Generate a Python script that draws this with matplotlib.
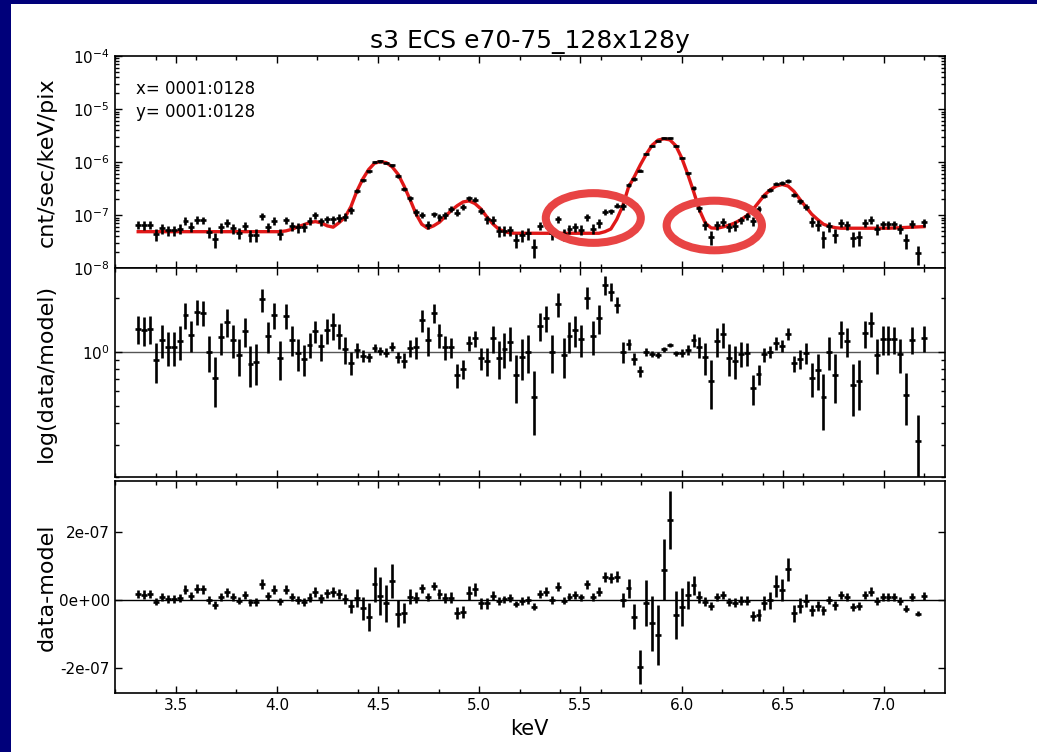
import numpy as np
import matplotlib
matplotlib.use("Agg")
import matplotlib.pyplot as plt
from matplotlib.patches import Ellipse, Rectangle
from matplotlib.ticker import MultipleLocator, FormatStrFormatter, LogLocator, NullFormatter

# ---- spectrum: bin centres (two 14.6 eV PI channels per bin) ----
energy = 3.3142 + 0.0292 * np.arange(134)
bin_half_width = 0.0146

# best-fit model, log10(cnt/sec/keV/pix) per bin
model_log = [
    -7.31, -7.31, -7.31, -7.31, -7.31, -7.31, -7.31, -7.31, -7.31, -7.31,
    -7.31, -7.31, -7.31, -7.31, -7.31, -7.31, -7.31, -7.31, -7.31, -7.31,
    -7.31, -7.31, -7.31, -7.31, -7.31, -7.295, -7.265, -7.22, -7.18, -7.14,
    -7.12, -7.145, -7.20, -7.225, -7.14, -7.04, -6.84, -6.55, -6.32, -6.14,
    -6.02, -5.99, -6.01, -6.09, -6.23, -6.45, -6.70, -6.97, -7.17, -7.245,
    -7.20, -7.13, -7.02, -6.91, -6.82, -6.75, -6.73, -6.78, -6.88, -7.03,
    -7.16, -7.26, -7.31, -7.335, -7.34, -7.34, -7.34, -7.34, -7.34, -7.34,
    -7.34, -7.34, -7.34, -7.34, -7.34, -7.34, -7.34, -7.34, -7.34, -7.31,
    -7.26, -7.08, -6.83, -6.47, -6.27, -6.05, -5.85, -5.68, -5.585, -5.56,
    -5.58, -5.69, -5.92, -6.22, -6.55, -6.90, -7.15, -7.24, -7.245, -7.22,
    -7.19, -7.145, -7.085, -7.01, -6.90, -6.76, -6.62, -6.52, -6.45, -6.42,
    -6.45, -6.55, -6.70, -6.84, -6.98, -7.08, -7.17, -7.21, -7.235, -7.245,
    -7.245, -7.245, -7.245, -7.245, -7.245, -7.245, -7.245, -7.245, -7.24, -7.235,
    -7.23, -7.225, -7.22, -7.215,
]

# data - model, in units of 1e-7
resid_e7 = [
    0.17, 0.16, 0.17, -0.05, 0.08, 0.03, 0.03, 0.07, 0.30, 0.12,
    0.33, 0.32, 0.00, -0.14, 0.10, 0.23, 0.08, -0.02, 0.15, -0.07,
    -0.06, 0.47, 0.11, 0.30, -0.04, 0.30, 0.09, -0.01, -0.06, 0.07,
    0.23, 0.05, 0.20, 0.24, 0.17, 0.03, -0.19, 0.05, -0.24, -0.50,
    0.46, 0.11, -0.10, 0.56, -0.40, -0.38, 0.10, 0.07, 0.34, 0.09,
    0.41, 0.18, 0.06, 0.07, -0.39, -0.35, 0.21, 0.31, -0.10, -0.10,
    0.13, -0.04, 0.02, 0.06, -0.12, -0.03, 0.00, -0.20, 0.18, 0.25,
    0.00, 0.39, -0.02, 0.10, 0.15, 0.08, 0.46, 0.10, 0.25, 0.67,
    0.64, 0.69, 0.00, 0.34, -0.49, -1.97, -0.08, -0.69, -1.04, 0.89,
    2.36, -0.44, -0.20, 0.15, 0.44, 0.08, -0.05, -0.18, 0.08, 0.15,
    -0.05, -0.08, -0.02, -0.02, -0.47, -0.44, -0.08, 0.00, 0.41, 0.30,
    0.91, -0.39, -0.17, -0.02, -0.30, -0.17, -0.30, 0.00, -0.15, 0.15,
    0.08, -0.20, -0.18, 0.15, 0.25, -0.02, 0.10, 0.10, 0.10, -0.02,
    -0.25, 0.10, -0.41, 0.12,
]

# 1-sigma errors, in units of 1e-7
err_e7 = [
    0.12, 0.12, 0.12, 0.11, 0.12, 0.11, 0.11, 0.12, 0.13, 0.12,
    0.13, 0.13, 0.11, 0.11, 0.12, 0.13, 0.12, 0.11, 0.12, 0.11,
    0.11, 0.14, 0.12, 0.13, 0.11, 0.13, 0.12, 0.12, 0.12, 0.13,
    0.14, 0.13, 0.13, 0.14, 0.14, 0.16, 0.19, 0.27, 0.34, 0.41,
    0.52, 0.56, 0.54, 0.50, 0.40, 0.30, 0.22, 0.16, 0.14, 0.12,
    0.13, 0.14, 0.16, 0.17, 0.17, 0.18, 0.20, 0.20, 0.17, 0.15,
    0.14, 0.12, 0.11, 0.11, 0.10, 0.11, 0.11, 0.10, 0.11, 0.12,
    0.11, 0.13, 0.11, 0.11, 0.12, 0.11, 0.13, 0.12, 0.13, 0.14,
    0.14, 0.16, 0.20, 0.27, 0.37, 0.49, 0.68, 0.80, 0.88, 0.90,
    0.86, 0.70, 0.55, 0.40, 0.28, 0.18, 0.13, 0.12, 0.12, 0.12,
    0.12, 0.13, 0.13, 0.14, 0.15, 0.17, 0.21, 0.25, 0.32, 0.33,
    0.34, 0.25, 0.22, 0.19, 0.16, 0.15, 0.13, 0.13, 0.13, 0.12,
    0.12, 0.12, 0.12, 0.12, 0.13, 0.12, 0.12, 0.12, 0.12, 0.12,
    0.11, 0.12, 0.075, 0.12,
]

title_text = "s3 ECS e70-75_128x128y"
region_text = "x= 0001:0128\ny= 0001:0128"

model = 10.0 ** np.array(model_log)
resid = np.array(resid_e7) * 1e-7
err = np.array(err_e7) * 1e-7
data = model + resid
ratio = data / model
ratio_err = err / model

# ---- figure ----
W, H = 1037, 752
fig = plt.figure(figsize=(W / 100, H / 100), dpi=100, facecolor="#00007a")
fig.patches.append(Rectangle((11 / W, 0), 1 - 11 / W, 1 - 4 / H,
                             transform=fig.transFigure, facecolor="white",
                             edgecolor="none", zorder=-10))

left, width = 114.5 / W, (945 - 114.5) / W

def panel(top_px, bottom_px, sharex=None):
    return fig.add_axes([left, 1 - bottom_px / H, width, (bottom_px - top_px) / H],
                        sharex=sharex)

ax1 = panel(56, 268.3)
ax2 = panel(268.3, 477, sharex=ax1)
ax3 = panel(481, 693.3, sharex=ax1)

ebkw = dict(fmt="none", ecolor="black", elinewidth=1.9, capsize=0, zorder=3)
red = "#e01818"

# spectrum + model
ax1.errorbar(energy, data, yerr=err, xerr=bin_half_width, **ebkw)
ax1.plot(energy, model, color=red, lw=2.4, zorder=2)
ax1.set_yscale("log")
ax1.set_ylim(1e-8, 1e-4)
ax1.yaxis.set_major_locator(LogLocator(base=10, numticks=10))
ax1.yaxis.set_minor_locator(LogLocator(base=10, subs=np.arange(2, 10), numticks=20))
ax1.yaxis.set_minor_formatter(NullFormatter())
ax1.set_ylabel("cnt/sec/keV/pix", fontsize=16)
ax1.set_title(title_text, fontsize=18, pad=6)
ax1.text(0.026, 0.885, region_text, transform=ax1.transAxes, fontsize=12,
         va="top", ha="left", linespacing=1.35)

# ratio
ax2.errorbar(energy, ratio, yerr=ratio_err, xerr=bin_half_width, **ebkw)
ax2.axhline(1.0, color="#555555", lw=1.0, zorder=1)
ax2.set_yscale("log")
ax2.set_ylim(0.2, 2.92)
ax2.yaxis.set_minor_locator(LogLocator(base=10, subs=np.arange(2, 10), numticks=20))
ax2.yaxis.set_minor_formatter(NullFormatter())
ax2.set_ylabel("log(data/model)", fontsize=16)

# residuals
ax3.errorbar(energy, resid, yerr=err, xerr=bin_half_width, **ebkw)
ax3.axhline(0.0, color="black", lw=1.0, zorder=1)
ax3.set_ylim(-2.744e-7, 3.5e-7)
ax3.yaxis.set_major_locator(MultipleLocator(2e-7))
ax3.yaxis.set_major_formatter(FormatStrFormatter("%.0e"))
ax3.set_ylabel("data-model", fontsize=16)
ax3.set_xlabel("keV", fontsize=15)

ax1.set_xlim(3.197, 7.302)
ax3.xaxis.set_major_locator(MultipleLocator(0.5))
ax3.xaxis.set_minor_locator(MultipleLocator(0.2))
ax3.xaxis.set_major_formatter(FormatStrFormatter("%.1f"))

for ax in (ax1, ax2, ax3):
    ax.tick_params(which="both", direction="in", top=True, right=True,
                   labelsize=11, width=1.0)
    ax.tick_params(which="major", length=5)
    ax.tick_params(which="minor", length=2.8)
    for s in ax.spines.values():
        s.set_linewidth(1.2)
    ax.yaxis.set_label_coords(-0.07, 0.5)
for ax in (ax1, ax2):
    ax.tick_params(labelbottom=False)

# highlighted regions of the spectrum
for cx, cy, ew, eh in [(593.3, 218.0, 95.0, 49.7), (714.3, 225.5, 95.3, 49.6)]:
    fig.add_artist(Ellipse((cx / W, 1 - cy / H), ew / W, eh / H,
                           transform=fig.transFigure, fill=False,
                           edgecolor="#e84444", lw=5.8, zorder=10))

fig.savefig("out.png", dpi=100, facecolor=fig.get_facecolor())
